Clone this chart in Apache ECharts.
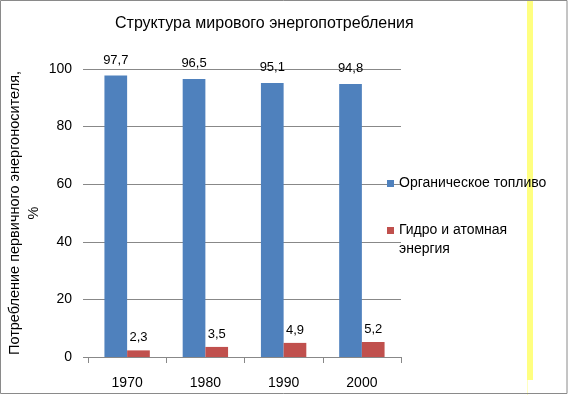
<!DOCTYPE html>
<html><head><meta charset="utf-8">
<script src="https://cdn.jsdelivr.net/npm/echarts@6/dist/echarts.min.js"></script>
<style>html,body{margin:0;padding:0;background:#fff}#c{width:568px;height:395px}</style>
</head><body><div id="c"></div>
<script>
var categories = ['1970', '1980', '1990', '2000'];
var fossil = [97.7, 96.5, 95.1, 94.8];
var hydroNuclear = [2.3, 3.5, 4.9, 5.2];
var yTicks = [0, 20, 40, 60, 80, 100];
var seriesNames = ['Органическое топливо', 'Гидро и атомная энергия'];
var titleText = 'Структура мирового энергопотребления';
var yName = 'Потребление первичного энергоносителя,\n%';

var FONT = 'Liberation Sans';
var chart = echarts.init(document.getElementById('c'), null, {renderer: 'canvas'});
function fmt(p){ return String(p.value).replace('.', ','); }
chart.setOption({
  animation: false,
  backgroundColor: '#fff',
  title: {text: titleText, left: 110, top: 11,
    textStyle: {fontFamily: FONT, fontSize: 16, fontWeight: 'normal', color: '#000'}},
  graphic: [
    {type: 'rect', z: -10, silent: true, shape: {x: 527, y: 0, width: 6, height: 380}, style: {fill: '#ffff80'}},
    {type: 'rect', z: -10, silent: true, shape: {x: 527, y: 380, width: 1, height: 15}, style: {fill: '#ffffc0'}},
    {type: 'rect', z: 100, silent: true, shape: {x: 0.5, y: 0.5, width: 566.5, height: 393}, style: {fill: null, stroke: '#8a8a8a', lineWidth: 1}}
  ],
  legend: {
    orient: 'vertical', left: 382, top: 169, itemWidth: 7, itemHeight: 7, itemGap: 9,
    icon: 'rect',
    textStyle: {fontFamily: FONT, fontSize: 14, color: '#000', lineHeight: 19,
      rich: {p: {fontFamily: FONT, fontSize: 14, lineHeight: 19},
             t: {fontFamily: FONT, fontSize: 14, lineHeight: 19, color: '#000'}}},
    formatter: function(n){ return n === seriesNames[1] ? '{p| }\n{t|Гидро и атомная}\n{t|энергия}' : n; },
    data: [seriesNames[0], seriesNames[1]]
  },
  grid: {left: 88, top: 69, width: 313, height: 288, outerBoundsMode: 'none', containLabel: false},
  xAxis: {
    type: 'category', data: categories,
    axisLine: {lineStyle: {color: '#888'}},
    axisTick: {show: true, length: 6, lineStyle: {color: '#888'}},
    axisLabel: {fontFamily: FONT, fontSize: 14, color: '#000', margin: 19}
  },
  yAxis: {
    type: 'value', min: 0, max: 100, interval: 20,
    name: yName, nameLocation: 'middle', nameRotate: 90, nameGap: 45, nameMoveOverlap: false,
    nameTextStyle: {fontFamily: FONT, fontSize: 14.5, color: '#000', lineHeight: 19},
    axisLine: {show: false},
    axisTick: {show: true, length: 5, lineStyle: {color: '#888'}},
    splitLine: {lineStyle: {color: '#888'}},
    axisLabel: {fontFamily: FONT, fontSize: 14, color: '#000', margin: 16,
      formatter: function(v){ return yTicks.indexOf(v) >= 0 ? String(v) : ''; }}
  },
  series: [
    {name: seriesNames[0], type: 'bar', data: fossil, barGap: '0%', barCategoryGap: '42%',
     itemStyle: {color: '#4f81bd'},
     label: {show: true, position: 'top', distance: 9, formatter: fmt, fontFamily: FONT, fontSize: 13, color: '#000'}},
    {name: seriesNames[1], type: 'bar', data: hydroNuclear, barGap: '0%', barCategoryGap: '42%',
     itemStyle: {color: '#c0504d'},
     label: {show: true, position: 'top', distance: 6, formatter: fmt, fontFamily: FONT, fontSize: 13, color: '#000'}}
  ]
});
</script></body></html>
